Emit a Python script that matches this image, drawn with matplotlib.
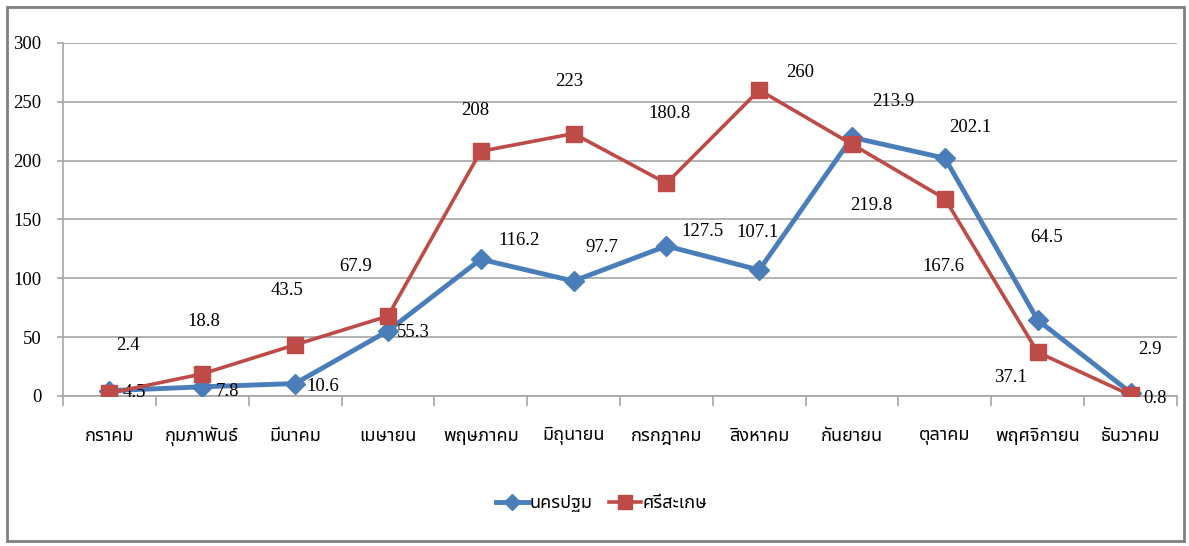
"""
plot.py

Monthly values for two provinces, line chart with data labels.
"""

import matplotlib
matplotlib.use("Agg")
import matplotlib.pyplot as plt
from matplotlib import font_manager
from matplotlib.ft2font import FT2Font
from matplotlib.patches import Rectangle

# Data
months = ["กราคม", "กุมภาพันธ์", "มีนาคม", "เมษายน", "พฤษภาคม", "มิถุนายน",
          "กรกฎาคม", "สิงหาคม", "กันยายน", "ตุลาคม", "พฤศจิกายน", "ธันวาคม"]
nakhon_pathom = [4.5, 7.8, 10.6, 55.3, 116.2, 97.7, 127.5, 107.1, 219.8, 202.1, 64.5, 2.9]
si_sa_ket = [2.4, 18.8, 43.5, 67.9, 208, 223, 180.8, 260, 213.9, 167.6, 37.1, 0.8]
series_names = ["นครปฐม", "ศรีสะเกษ"]
y_ticks = [0, 50, 100, 150, 200, 250, 300]

# label offsets in pixels (dx, dy) from each point
blue_offsets = [(25, -2), (25, -5), (28, -3), (25, -2), (38, 19), (28, 34),
                (36, 14), (-2, 37), (19, -68), (25, 31), (9, 83), (19, 43)]
red_offsets = [(18, 48), (2, 52), (-8, 54), (-32, 50), (-6, 41), (-4, 52),
               (3, 70), (41, 18), (41, 43), (-2, -68), (-27, -25), (24, -3)]


def find_thai_font():
    """Look for an installed font that has Thai glyphs."""
    names = []
    for f in font_manager.fontManager.ttflist:
        try:
            cmap = FT2Font(f.fname).get_charmap()
        except Exception:
            continue
        if 0x0E01 in cmap and 0x0E21 in cmap:
            names.append(f.name)
    for pref in ["Noto Sans Thai", "Noto Sans Thai UI", "Loma", "Garuda",
                 "Norasi", "Tlwg Typo", "Kinnari"]:
        if pref in names:
            return pref
    return names[0] if names else "DejaVu Sans"


thai_font = find_thai_font()
thai_family = [thai_font, "DejaVu Sans"]
num_family = ["Liberation Serif", "DejaVu Serif"]

blue = "#4A7EBB"
red = "#BE4B48"
grid_color = "#A6A6A6"

fig = plt.figure(figsize=(11.89, 5.46), dpi=100)
ax = fig.add_axes([63 / 1189, 1 - 396 / 546, 1114 / 1189, 353 / 546])

x = list(range(len(months)))
ax.plot(x, nakhon_pathom, color=blue, lw=3.5, marker="D", markersize=10,
        label=series_names[0], zorder=3)
ax.plot(x, si_sa_ket, color=red, lw=2.6, marker="s", markersize=12,
        label=series_names[1], zorder=4)

for xi, v, off in zip(x, nakhon_pathom, blue_offsets):
    ax.annotate(f"{v:g}", (xi, v), xytext=off, textcoords="offset pixels",
                ha="center", va="center", fontsize=13.5, family=num_family)
for xi, v, off in zip(x, si_sa_ket, red_offsets):
    ax.annotate(f"{v:g}", (xi, v), xytext=off, textcoords="offset pixels",
                ha="center", va="center", fontsize=13.5, family=num_family)

ax.set_xlim(-0.5, len(months) - 0.5)
ax.set_ylim(0, 300)
ax.set_yticks(y_ticks)
ax.set_yticklabels([str(t) for t in y_ticks], family=num_family, fontsize=13.5)
ax.yaxis.grid(True, color=grid_color, lw=1.2)
ax.set_axisbelow(True)

# category boundaries as ticks, names centred between them
ax.set_xticks([i - 0.5 for i in range(len(months) + 1)])
ax.set_xticklabels([])
ax.set_xticks(x, minor=True)
ax.set_xticklabels(months, minor=True, family=thai_family, fontsize=13)
ax.tick_params(axis="x", which="major", length=7, color=grid_color, width=1.2)
ax.tick_params(axis="x", which="minor", length=0, pad=22)
ax.tick_params(axis="y", length=4.5, color=grid_color, width=1.2, pad=11)

for side in ["top", "right"]:
    ax.spines[side].set_visible(False)
ax.spines["left"].set_color(grid_color)
ax.spines["bottom"].set_color(grid_color)
ax.spines["left"].set_linewidth(1.2)
ax.spines["bottom"].set_linewidth(1.2)

leg = fig.legend(loc="center", bbox_to_anchor=(0.506, 0.078), ncol=2,
                 frameon=False, handlelength=1.8, handletextpad=0.05,
                 columnspacing=0.9, markerscale=0.85,
                 prop={"family": thai_family, "size": 13})

# chart border
fig.patches.append(Rectangle((7 / 1189, 5 / 546), 1177 / 1189, 534 / 546,
                             transform=fig.transFigure, fill=False,
                             edgecolor="#808080", lw=2))

plt.savefig("out.png", dpi=100)
plt.close()
